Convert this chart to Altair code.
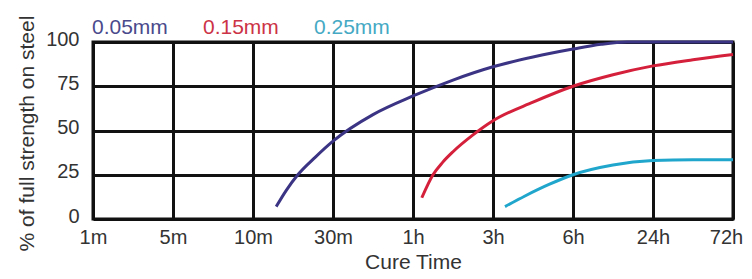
import altair as alt
import pandas as pd

tick_labels = ["1m", "5m", "10m", "30m", "1h", "3h", "6h", "24h", "72h"]
series_names = ["0.05mm", "0.15mm", "0.25mm"]
series_colors = ["#3b3484", "#d5203b", "#20a6cc"]

# x positions are in tick-index units (0 = 1m ... 8 = 72h)
x_005 = [2.29, 2.42, 2.56, 2.78, 3.0, 3.5, 4.0, 4.5, 5.0, 5.5, 6.0, 6.35, 6.68, 7.0, 8.0]
y_005 = [7, 16.5, 25, 35, 44, 59, 69.5, 78.5, 86, 91.5, 96, 98.7, 100, 100, 100]
x_015 = [4.11, 4.25, 4.37, 4.5, 4.75, 5.0, 5.5, 6.0, 6.5, 7.0, 7.5, 8.0]
y_015 = [12, 25, 32, 38, 47.5, 55.5, 66, 75, 81.5, 86.5, 90, 93]
x_025 = [5.15, 5.4, 5.7, 6.0, 6.5, 7.0, 7.5, 8.0]
y_025 = [7, 13, 19.5, 25, 30.5, 33, 33.5, 33.5]

rows = []
for name, xs, ys in zip(series_names, [x_005, x_015, x_025], [y_005, y_015, y_025]):
    for xv, yv in zip(xs, ys):
        rows.append({"series": name, "t": xv, "pct": yv})
df = pd.DataFrame(rows)

label_array = "[" + ",".join("'" + s + "'" for s in tick_labels) + "]"
color_expr = ("datum.value == '0.05mm' ? '#4a4a8c' : "
              "datum.value == '0.15mm' ? '#cc3346' : '#45a9c4'")

chart = alt.Chart(df).mark_line(strokeWidth=3, interpolate="monotone").encode(
    x=alt.X("t:Q",
            scale=alt.Scale(domain=[0, 8], nice=False, zero=False),
            axis=alt.Axis(values=list(range(len(tick_labels))),
                          labelExpr=label_array + "[datum.value]",
                          labelOffset={"expr": "datum.value == 8 ? -7 : 0"},
                          title="Cure Time", titleFontSize=21, titleFontWeight="normal",
                          titleColor="#333333", titlePadding=4,
                          labelFontSize=20, labelColor="#333333", labelPadding=8,
                          ticks=False, domain=False,
                          grid=True, gridColor="#111111", gridWidth=3, gridOpacity=1,
                          labelFlush=False)),
    y=alt.Y("pct:Q",
            scale=alt.Scale(domain=[0, 100], nice=False),
            axis=alt.Axis(values=[0, 25, 50, 75, 100],
                          title="% of full strength on steel", titleFontSize=21,
                          titleFontWeight="normal", titleColor="#333333", titlePadding=8,
                          titleY=91, titleAnchor="middle", titleAlign="center",
                          labelFontSize=20, labelColor="#333333", labelPadding=14,
                          labelBaseline="middle", labelOffset=-3,
                          ticks=False, domain=False,
                          grid=True, gridColor="#111111", gridWidth=3, gridOpacity=1)),
    color=alt.Color("series:N",
                    scale=alt.Scale(domain=series_names, range=series_colors),
                    legend=alt.Legend(orient="none", legendX=-22, legendY=-25,
                                      direction="horizontal", title=None,
                                      symbolSize=0, symbolStrokeWidth=0, symbolOpacity=0,
                                      labelOffset=0, columnPadding=14,
                                      labelFontSize=21, labelFont="Liberation Sans",
                                      labelColor={"expr": color_expr})),
).properties(
    width=640, height=177,
    autosize=alt.AutoSizeParams(type="none"),
    padding={"left": 85, "top": 34, "right": 10, "bottom": 52},
).configure(
    font="Liberation Sans",
).configure_view(
    stroke="#111111", strokeWidth=3,
).configure_axis(
    labelFont="Liberation Sans", titleFont="Liberation Sans",
)

chart.save("out.html", embed_options={"renderer": "svg", "actions": False})
